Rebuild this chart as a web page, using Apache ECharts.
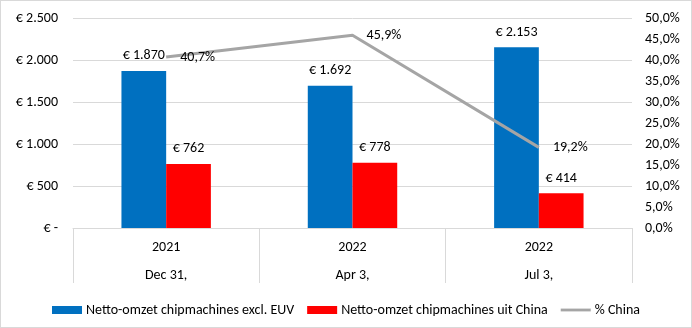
<!DOCTYPE html>
<html>
<head>
<meta charset="utf-8">
<script src="https://cdn.jsdelivr.net/npm/echarts@6/dist/echarts.min.js"></script>
<style>
    html, body { margin: 0; padding: 0; background: #fff; }
    #chart { width: 690px; height: 326px; border: 1px solid #d9d9d9; }
</style>
</head>
<body>
<div id="chart"></div>
<script>
    // waarden uit de grafiek
    var years = ['2021', '2022', '2022'];
    var dates = ['Dec 31,', 'Apr 3,', 'Jul 3,'];
    var omzetExclEuv = [1870, 1692, 2153];
    var omzetChina = [762, 778, 414];
    var pctChina = [40.7, 45.9, 19.2];

    var font = 'Carlito, Lato, "Liberation Sans", sans-serif';

    function euro(v) {
        if (v === 0) return '€ -';
        return '€ ' + v.toString().replace(/\B(?=(\d{3})+(?!\d))/g, '.');
    }
    function pct(v) {
        return v.toFixed(1).replace('.', ',') + '%';
    }

    var categories = [];
    for (var i = 0; i < years.length; i++) {
        categories.push(years[i] + '\n' + dates[i]);
    }

    var chart = echarts.init(document.getElementById('chart'));
    var option = {
        animation: false,
        textStyle: { fontFamily: font, color: '#000' },
        grid: { left: 72, right: 59, top: 17, bottom: 99, containLabel: false },
        legend: {
            top: 297,
            left: 'center',
            itemGap: 13,
            itemWidth: 30,
            itemHeight: 8,
            textStyle: { fontFamily: font, fontSize: 14, color: '#000', padding: [0, 0, 0, -1] },
            data: [
                { name: 'Netto-omzet chipmachines excl. EUV', icon: 'rect' },
                { name: 'Netto-omzet chipmachines uit China', icon: 'rect' },
                { name: '% China', icon: 'path://M0,0 H32 V3 H0 Z' }
            ]
        },
        xAxis: {
            type: 'category',
            data: categories,
            axisLine: { lineStyle: { color: '#d9d9d9' } },
            axisTick: { show: true, length: 55, lineStyle: { color: '#d9d9d9' } },
            axisLabel: {
                fontSize: 14,
                color: '#000',
                margin: 5,
                lineHeight: 28,
                fontFamily: font
            }
        },
        yAxis: [
            {
                type: 'value',
                min: 0,
                max: 2500,
                interval: 500,
                axisLine: { show: false },
                axisTick: { show: false },
                splitLine: { lineStyle: { color: '#d9d9d9' } },
                axisLabel: { fontSize: 14, color: '#000', margin: 15, formatter: euro }
            },
            {
                type: 'value',
                min: 0,
                max: 50,
                interval: 5,
                position: 'right',
                axisLine: { show: false },
                axisTick: { show: false },
                splitLine: { show: false },
                axisLabel: { fontSize: 14, color: '#000', margin: 13, align: 'left', formatter: pct }
            }
        ],
        series: [
            {
                name: 'Netto-omzet chipmachines excl. EUV',
                type: 'bar',
                data: omzetExclEuv,
                barGap: '0%',
                barCategoryGap: '52%',
                itemStyle: { color: '#0070C0' },
                label: { show: true, position: 'top', distance: 8, fontSize: 14, color: '#000', formatter: function (p) { return euro(p.value); } }
            },
            {
                name: 'Netto-omzet chipmachines uit China',
                type: 'bar',
                data: omzetChina,
                itemStyle: { color: '#FF0000' },
                label: { show: true, position: 'top', distance: 8, fontSize: 14, color: '#000', formatter: function (p) { return euro(p.value); } }
            },
            {
                name: '% China',
                type: 'line',
                yAxisIndex: 1,
                data: pctChina,
                symbol: 'circle',
                symbolSize: 0.1,
                showSymbol: true,
                lineStyle: { color: '#A5A5A5', width: 3 },
                itemStyle: { color: '#A5A5A5' },
                label: { show: true, position: 'right', distance: 14, fontSize: 14, color: '#000', formatter: function (p) { return pct(p.value); } }
            }
        ]
    };
    chart.setOption(option);
</script>
</body>
</html>
